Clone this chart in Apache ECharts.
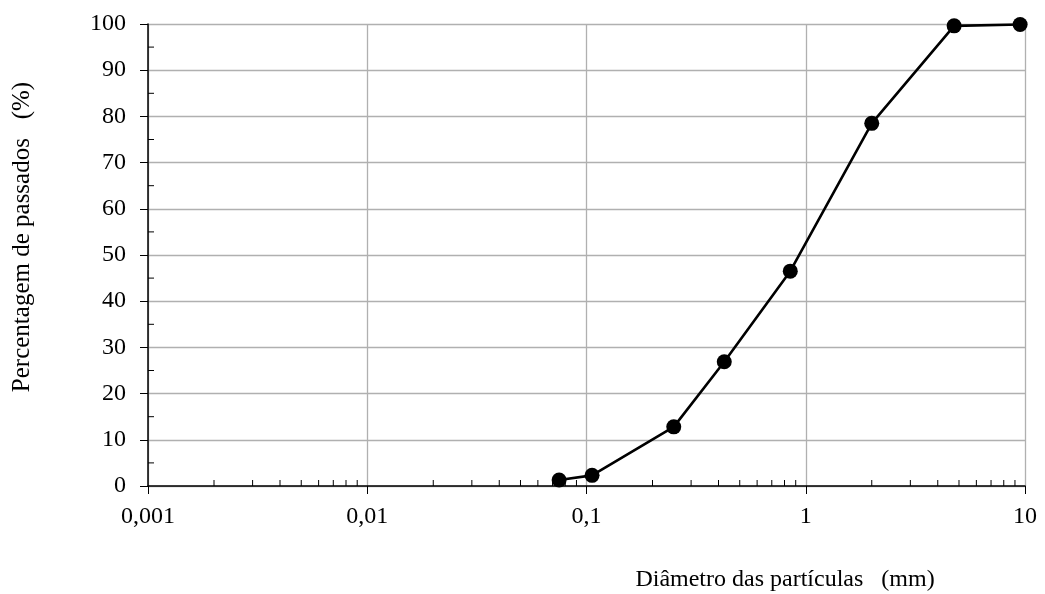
<!DOCTYPE html>
<html>
<head>
<meta charset="utf-8">
<script src="https://cdn.jsdelivr.net/npm/echarts@6/dist/echarts.min.js"></script>
<style>
  html, body { margin: 0; padding: 0; background: #fff; }
  #chartBox { width: 1045px; height: 594px; }
</style>
</head>
<body>
<div id="chartBox"></div>
<script>
  // diâmetro das peneiras (mm) e percentagem de passados (%)
  var diametros = [0.075, 0.106, 0.25, 0.425, 0.85, 2.0, 4.75, 9.5];
  var passados = [1.3, 2.3, 12.8, 26.9, 46.5, 78.5, 99.6, 99.9];

  var xTickLabels = {0.001: '0,001', 0.01: '0,01', 0.1: '0,1', 1: '1', 10: '10'};
  var xMinorTicks = [];
  [0.001, 0.01, 0.1, 1].forEach(function (d) {
    for (var k = 2; k <= 9; k++) xMinorTicks.push(+(d * k).toPrecision(3));
  });
  var yMinorTicks = [5, 15, 25, 35, 45, 55, 65, 75, 85, 95];

  var fonte = '"Liberation Serif", "Times New Roman", serif';
  var chart = echarts.init(document.getElementById('chartBox'));

  var option = {
    animation: false,
    grid: { left: 148, right: 20, top: 24, bottom: 108, outerBoundsMode: 'none', containLabel: false },
    xAxis: {
      type: 'log',
      logBase: 10,
      min: 0.001,
      max: 10,
      name: 'Diâmetro das partículas   (mm)',
      nameLocation: 'middle',
      nameGap: 82,
      nameTextStyle: { color: '#000', fontFamily: fonte, fontSize: 24, padding: [0, 0, 0, 397] },
      axisLine: { onZero: false, lineStyle: { color: '#000', width: 1.5 } },
      axisTick: { show: true, length: 8, lineStyle: { color: '#000' } },
      axisLabel: {
        color: '#000', fontFamily: fonte, fontSize: 24, margin: 19,
        formatter: function (v) { return xTickLabels[+v.toPrecision(3)] || ''; }
      },
      splitLine: { show: true, lineStyle: { color: '#b0b0b0', width: 1.3 } }
    },
    yAxis: {
      type: 'value',
      min: 0,
      max: 100,
      interval: 10,
      name: 'Percentagem de passados   (%)',
      nameLocation: 'middle',
      nameGap: 113,
      nameTextStyle: { color: '#000', fontFamily: fonte, fontSize: 25, padding: [0, 0, 0, 36] },
      axisLine: { show: true, lineStyle: { color: '#000', width: 1.5 } },
      axisTick: { show: true, length: 8, lineStyle: { color: '#000' } },
      axisLabel: { color: '#000', fontFamily: fonte, fontSize: 24, margin: 22 },
      splitLine: { show: true, lineStyle: { color: '#b0b0b0', width: 1.3 } }
    },
    series: [
      {
        // tracinhos menores do eixo x (2..9 em cada década)
        type: 'custom',
        silent: true,
        data: xMinorTicks,
        encode: { x: 0 },
        renderItem: function (params, api) {
          var p = api.coord([api.value(0), 0]);
          return { type: 'line', shape: { x1: p[0], y1: p[1], x2: p[0], y2: p[1] - 6 },
                   style: { stroke: '#000', lineWidth: 1 } };
        }
      },
      {
        // tracinhos menores do eixo y
        type: 'custom',
        silent: true,
        data: yMinorTicks.map(function (v) { return [0.001, v]; }),
        renderItem: function (params, api) {
          var p = api.coord([api.value(0), api.value(1)]);
          return { type: 'line', shape: { x1: p[0], y1: p[1], x2: p[0] + 6, y2: p[1] },
                   style: { stroke: '#000', lineWidth: 1 } };
        }
      },
      {
        name: 'Passados',
        type: 'line',
        data: diametros.map(function (d, i) { return [d, passados[i]]; }),
        symbol: 'circle',
        symbolSize: 15,
        itemStyle: { color: '#000' },
        lineStyle: { color: '#000', width: 2.6 },
        z: 5
      }
    ]
  };

  chart.setOption(option);
</script>
</body>
</html>
